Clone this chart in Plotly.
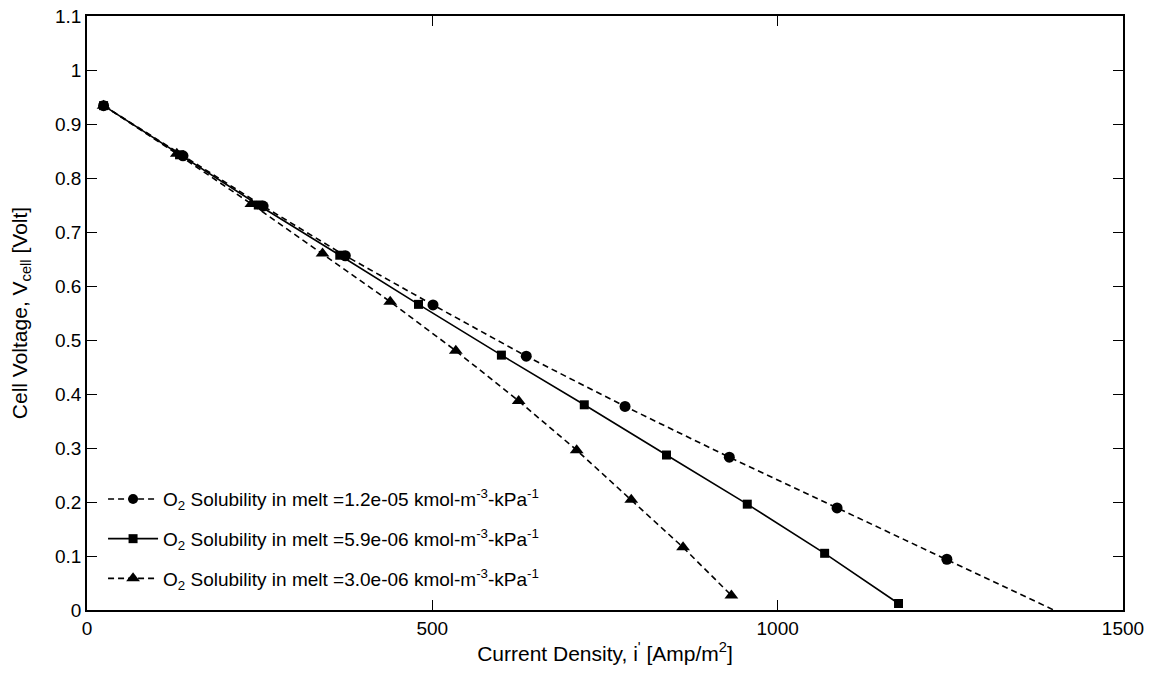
import plotly.graph_objects as go

# Current density [Amp/m^2] and cell voltage [Volt] for three O2 solubilities
i_high = [24, 139, 255, 374, 501, 636, 779, 930, 1086, 1245, 1403]
v_high = [0.934, 0.841, 0.748, 0.656, 0.565, 0.470, 0.377, 0.283, 0.189, 0.094, -0.002]

i_mid = [24, 134, 248, 366, 480, 600, 720, 839, 956, 1068, 1175]
v_mid = [0.934, 0.843, 0.750, 0.657, 0.566, 0.472, 0.380, 0.287, 0.196, 0.105, 0.012]

i_low = [24, 130, 238, 341, 439, 534, 625, 709, 788, 863, 933]
v_low = [0.934, 0.845, 0.752, 0.660, 0.571, 0.480, 0.387, 0.296, 0.204, 0.116, 0.027]

solubility_labels = ["1.2e-05", "5.9e-06", "3.0e-06"]

x_ticks = [0, 500, 1000, 1500]
y_ticks = [0, 0.1, 0.2, 0.3, 0.4, 0.5, 0.6, 0.7, 0.8, 0.9, 1, 1.1]

FONT = "Liberation Sans, Arial, sans-serif"
TICK_FS = 19
LABEL_FS = 21


def legend_text(s):
    return ("O<sub>2</sub> Solubility in melt =" + s +
            " kmol-m<sup>-3</sup>-kPa<sup>-1</sup>")


fig = go.Figure()

series = [
    (i_high, v_high, "circle", 11, "6px,4px"),
    (i_mid, v_mid, "square", 9, "solid"),
    (i_low, v_low, "triangle-up", 12, "6px,4px"),
]

for k, (xs, ys, sym, size, dash) in enumerate(series):
    # a point that lies below the axis keeps its line but no marker
    sizes = [size] * len(xs)
    if ys[-1] < 0:
        sizes[-1] = 0
    fig.add_trace(go.Scatter(
        x=xs, y=ys,
        mode="lines+markers",
        name=legend_text(solubility_labels[k]),
        legendgroup=str(k),
        line=dict(color="#000000", width=1.6, dash=dash),
        marker=dict(symbol=sym, size=sizes, color="#000000", opacity=1,
                    line=dict(width=0, color="#000000")),
        opacity=1,
        cliponaxis=True,
    ))

fig.update_layout(
    width=1155, height=673,
    margin=dict(l=87, r=32, t=16, b=63),
    paper_bgcolor="white",
    plot_bgcolor="white",
    font=dict(family=FONT, size=TICK_FS, color="black"),
    showlegend=True,
    legend=dict(
        x=0.0155, y=0.02, xanchor="left", yanchor="bottom",
        bgcolor="rgba(255,255,255,0)",
        borderwidth=0,
        font=dict(family=FONT, size=TICK_FS, color="black"),
        tracegroupgap=12,
        itemwidth=50,
    ),
)

fig.update_xaxes(
    range=[0, 1500],
    tickvals=x_ticks,
    ticktext=[str(v) for v in x_ticks],
    ticks="inside", ticklen=10, tickwidth=1, tickcolor="black",
    showline=True, linecolor="black", linewidth=1.5, mirror="ticks",
    showgrid=False, zeroline=False, automargin=False,
    tickfont=dict(family=FONT, size=TICK_FS, color="black"),
    title=dict(text="Current Density, i<sup>'</sup> [Amp/m<sup>2</sup>]",
               font=dict(family=FONT, size=LABEL_FS, color="black"), standoff=9),
)

fig.update_yaxes(
    range=[0, 1.1],
    tickvals=y_ticks,
    ticktext=[("%g" % v) for v in y_ticks],
    ticks="inside", ticklen=10, tickwidth=1, tickcolor="black",
    showline=True, linecolor="black", linewidth=1.5, mirror="ticks",
    showgrid=False, zeroline=False, automargin=False,
    tickfont=dict(family=FONT, size=TICK_FS, color="black"),
    title=dict(text="Cell Voltage, V<sub>cell</sub> [Volt]",
               font=dict(family=FONT, size=LABEL_FS, color="black"), standoff=22),
)

fig.write_html("out.html")
